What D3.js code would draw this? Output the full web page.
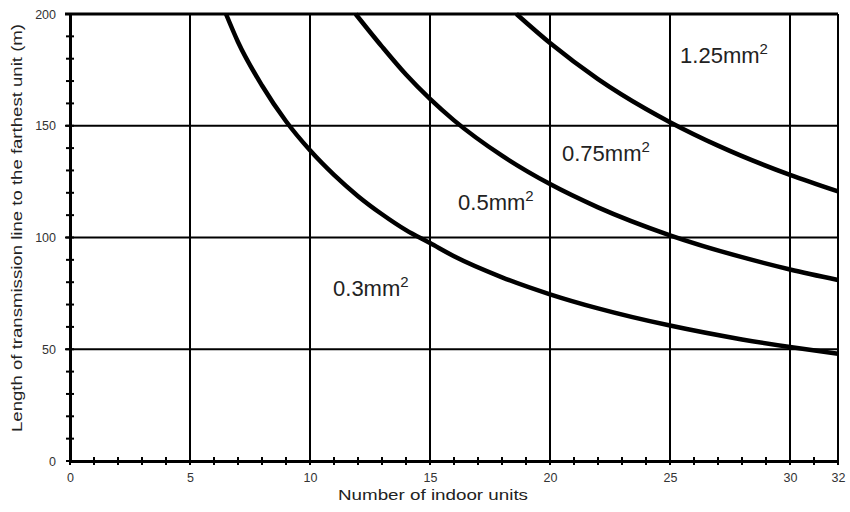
<!DOCTYPE html>
<html>
<head>
<meta charset="utf-8">
<script src="https://cdn.jsdelivr.net/npm/d3@7"></script>
<style>
  body { margin: 0; background: #fff; }
  svg { display: block; font-family: "Liberation Sans", Arial, sans-serif; }
</style>
</head>
<body>
<div id="chart"></div>
<script>
// x ticks (number of indoor units)
var xMajor = [0, 5, 10, 15, 20, 25, 30, 32];
var xMinor = d3.range(0, 33);
// y ticks (length in m)
var yMajor = [0, 50, 100, 150, 200];
var yMinor = d3.range(0, 201, 10);

// curves: [units, metres]
var curve03 = [[6.5, 200], [7, 187.5], [8, 168], [9, 152], [10, 139], [11, 128], [12, 118.5], [13, 110.4], [14, 103.3],
    [15, 97.5], [16, 91.6], [18, 82.2], [20, 74.6], [22, 68.3], [25, 60.6], [28, 54.4], [30, 51], [32, 48]];
var curve05 = [[11.9, 200], [13, 185.4], [14, 172.9], [15, 162], [16, 152.4], [18, 136.6], [20, 123.9], [22, 113.5],
    [25, 101], [28, 91.2], [30, 85.7], [32, 81]];
var curve075 = [[18.6, 200], [20, 187], [22, 170.9], [24, 157.5], [25, 151.6], [27, 141.1], [30, 128], [32, 120.6]];

// region labels
var labelMain = ["0.3mm", "0.5mm", "0.75mm", "1.25mm"];
var labelAt = [[10.96, 73.8], [16.17, 112.3], [20.5, 134.2], [25.42, 178]];

var svg = d3.select("#chart").append("svg").attr("width", 850).attr("height", 512);

var margin = { left: 70, top: 14, right: 12, bottom: 51 };
var width = svg.attr("width") - margin.left - margin.right;
var height = svg.attr("height") - margin.top - margin.bottom;

var chart = svg.append("g").attr("transform", "translate(" + margin.left + "," + margin.top + ")");

var x = d3.scaleLinear().domain([0, 32]).range([0, width]);
var y = d3.scaleLinear().domain([0, 200]).range([height, 0]);

// grid lines
chart.selectAll(".vgrid")
    .data(xMajor.filter(d => d > 0))
    .enter().append("line")
    .attr("x1", d => x(d)).attr("x2", d => x(d))
    .attr("y1", 0).attr("y2", height)
    .attr("stroke", "#000").attr("stroke-width", 2);

chart.selectAll(".hgrid")
    .data(yMajor.filter(d => d > 0))
    .enter().append("line")
    .attr("x1", -5).attr("x2", width)
    .attr("y1", d => y(d)).attr("y2", d => y(d))
    .attr("stroke", "#000").attr("stroke-width", d => d == 200 ? 3 : 2);

// x axis (labels + domain line)
var xAxis = chart.append("g")
    .attr("transform", "translate(0," + height + ")")
    .call(d3.axisBottom(x).tickValues(xMajor).tickSize(0).tickPadding(12).tickFormat(d3.format("d")));
xAxis.select(".domain").attr("stroke", "#000").attr("stroke-width", 3);
xAxis.selectAll("text").attr("font-size", 12.5).attr("fill", "#333").attr("font-family", "Liberation Sans, Arial, sans-serif");

// y axis
var yAxis = chart.append("g")
    .call(d3.axisLeft(y).tickValues(yMajor).tickSize(0).tickPadding(14).tickFormat(d3.format("d")));
yAxis.select(".domain").attr("stroke", "#000").attr("stroke-width", 3);
yAxis.selectAll("text").attr("font-size", 12.5).attr("fill", "#333").attr("font-family", "Liberation Sans, Arial, sans-serif");

// small crossing ticks
chart.selectAll(".xtick")
    .data(xMinor)
    .enter().append("line")
    .attr("x1", d => x(d)).attr("x2", d => x(d))
    .attr("y1", height - 4).attr("y2", height + 4)
    .attr("stroke", "#000").attr("stroke-width", 2);

chart.selectAll(".ytick")
    .data(yMinor)
    .enter().append("line")
    .attr("x1", -4).attr("x2", 4)
    .attr("y1", d => y(d)).attr("y2", d => y(d))
    .attr("stroke", "#000").attr("stroke-width", 2);

// curves
var line = d3.line()
    .x(d => x(d[0]))
    .y(d => y(d[1]))
    .curve(d3.curveMonotoneX);

chart.selectAll(".curve")
    .data([curve03, curve05, curve075])
    .enter().append("path")
    .attr("d", line)
    .attr("fill", "none")
    .attr("stroke", "#000")
    .attr("stroke-width", 4.5);

// region labels
var labels = chart.selectAll(".lbl")
    .data(labelMain)
    .enter().append("text")
    .attr("x", (d, i) => x(labelAt[i][0]))
    .attr("y", (d, i) => y(labelAt[i][1]))
    .attr("font-size", 22)
    .attr("fill", "#222");
labels.append("tspan").text(d => d);
labels.append("tspan").attr("dy", -9).attr("font-size", 15).text("2");

// axis titles
svg.append("text")
    .attr("x", 338)
    .attr("y", 500)
    .attr("font-size", 15)
    .attr("fill", "#222")
    .attr("textLength", 190)
    .attr("lengthAdjust", "spacingAndGlyphs")
    .text("Number of indoor units");

svg.append("text")
    .attr("transform", "translate(22,432) rotate(-90)")
    .attr("font-size", 14)
    .attr("fill", "#222")
    .attr("textLength", 408)
    .attr("lengthAdjust", "spacingAndGlyphs")
    .text("Length of transmission line to the farthest unit (m)");
</script>
</body>
</html>
